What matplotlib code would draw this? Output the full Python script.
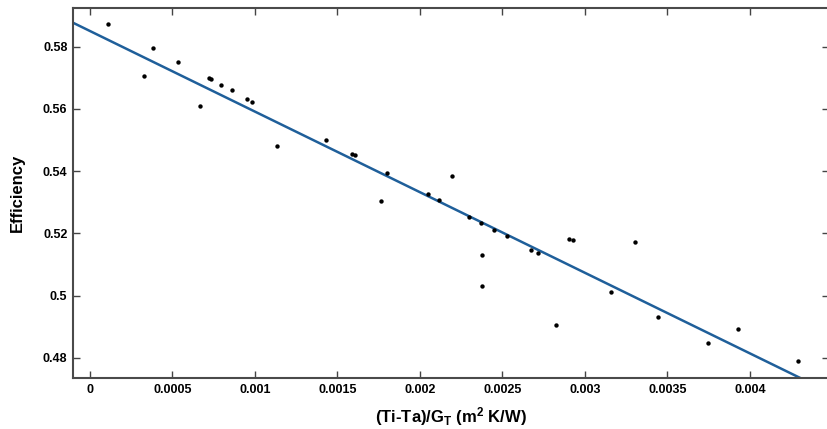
import matplotlib
matplotlib.use("Agg")
import matplotlib.pyplot as plt

# measured points (Ti-Ta)/GT vs efficiency
x_vals = [0.000107, 0.000329, 0.000380, 0.000531, 0.000669, 0.000721, 0.000731,
          0.000796, 0.000863, 0.000953, 0.000984, 0.001135, 0.001430, 0.001586,
          0.001608, 0.001764, 0.001798, 0.002046, 0.002115, 0.002194, 0.002295,
          0.002370, 0.002374, 0.002378, 0.002450, 0.002525, 0.002671, 0.002713,
          0.002824, 0.002905, 0.002930, 0.003156, 0.003301, 0.003442, 0.003747,
          0.003927, 0.004293]
eff_vals = [0.5872, 0.5707, 0.5796, 0.5752, 0.5610, 0.5698, 0.5696,
            0.5678, 0.5661, 0.5633, 0.5623, 0.5481, 0.5500, 0.5455,
            0.5452, 0.5305, 0.5395, 0.5325, 0.5306, 0.5384, 0.5253,
            0.5234, 0.5032, 0.5130, 0.5212, 0.5190, 0.5147, 0.5138,
            0.4906, 0.5183, 0.5178, 0.5012, 0.5172, 0.4931, 0.4846,
            0.4893, 0.4790]

# linear fit shown on the chart
fit_intercept = 0.5850
fit_slope = -25.9
fit_x = [-0.000103, 0.004479]

x_ticks = [0, 0.0005, 0.001, 0.0015, 0.002, 0.0025, 0.003, 0.0035, 0.004]
x_tick_labels = ["0", "0.0005", "0.001", "0.0015", "0.002", "0.0025", "0.003", "0.0035", "0.004"]
y_ticks = [0.48, 0.50, 0.52, 0.54, 0.56, 0.58]
y_tick_labels = ["0.48", "0.5", "0.52", "0.54", "0.56", "0.58"]

plt.rcParams["font.family"] = ["Liberation Sans", "DejaVu Sans"]
plt.rcParams["mathtext.default"] = "bf"
plt.rcParams["mathtext.fontset"] = "custom"
plt.rcParams["mathtext.bf"] = "Liberation Sans:bold"
plt.rcParams["mathtext.rm"] = "Liberation Sans:bold"

fig = plt.figure(figsize=(8.28, 4.29), dpi=100)
ax = fig.add_axes([73 / 828, 1 - 378 / 429, 756 / 828, 370 / 429])

fit_y = [fit_intercept + fit_slope * v for v in fit_x]
ax.plot(fit_x, fit_y, color="#1f5f9a", lw=1.8, zorder=2)
ax.scatter(x_vals, eff_vals, s=10, color="black", zorder=3, linewidths=0)

ax.set_xlim(fit_x[0], fit_x[1])
ax.set_ylim(0.4735, 0.5924)

ax.set_xticks(x_ticks)
ax.set_xticklabels(x_tick_labels, fontweight="bold", fontsize=9)
ax.set_yticks(y_ticks)
ax.set_yticklabels(y_tick_labels, fontweight="bold", fontsize=9)

ax.tick_params(direction="in", length=5, width=1, color="#444444",
               top=True, right=True, pad=4)

for sp in ax.spines.values():
    sp.set_linewidth(1.5)
    sp.set_color("#4a4a4a")

ax.set_ylabel("Efficiency", fontweight="bold", fontsize=12, labelpad=13)
ax.set_xlabel(r"(Ti-Ta)/G$_{T}$ (m$^{2}$ K/W)", fontweight="bold", fontsize=12, labelpad=7)

fig.savefig("out.png", dpi=100)
